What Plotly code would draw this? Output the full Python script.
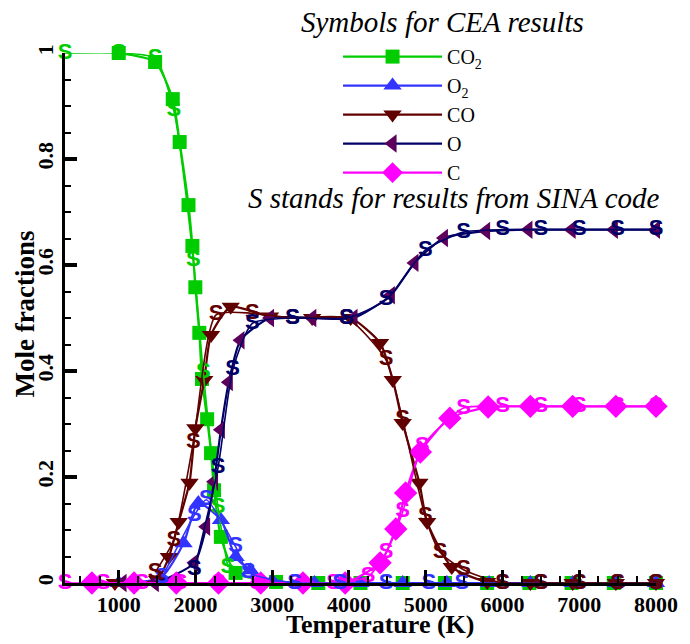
import plotly.graph_objects as go

# ---------------- CEA results (symbols) ----------------
T_CO2_CEA = [1000, 1474, 1704, 1794, 1909, 1960, 1998, 2050, 2085, 2152, 2203, 2242, 2331, 2523,
             3050, 3600, 4150, 4700, 5250, 5800, 6350, 6900, 7450, 8000]
Y_CO2_CEA = [1.0, 0.983, 0.913, 0.832, 0.713, 0.636, 0.558, 0.472, 0.385, 0.309, 0.245, 0.175, 0.087, 0.019,
             0.002, 0, 0, 0, 0, 0, 0, 0, 0, 0]

T_O2_CEA = [1000, 1550, 1845, 2037, 2331, 2523, 2715, 3000, 3550, 4150, 4700, 5275, 5826, 6363, 6914, 7477, 8000]
Y_O2_CEA = [0, 0.01, 0.075, 0.151, 0.119, 0.049, 0.024, 0.004, 0, 0, 0, 0, 0, 0, 0, 0, 0]

T_CO_CEA = [950, 1499, 1653, 1781, 1922, 1998, 2114, 2203, 2459, 2971, 3520, 4021, 4405, 4571, 4699,
            4917, 5019, 5339, 5800, 6363, 6914, 7477, 8000]
Y_CO_CEA = [0, 0.006, 0.049, 0.115, 0.189, 0.292, 0.383, 0.468, 0.521, 0.503, 0.5, 0.5, 0.453, 0.383, 0.302,
            0.189, 0.115, 0.030, 0.002, 0, 0, 0, 0]

T_O_CEA = [1050, 1470, 1986, 2139, 2242, 2331, 2434, 2587, 2971, 3522, 4059, 4546, 4853, 5237, 5787,
           6338, 6901, 7451, 8000]
Y_O_CEA = [0, 0, 0.038, 0.106, 0.191, 0.289, 0.379, 0.458, 0.5, 0.5, 0.5, 0.543, 0.604, 0.651, 0.664,
           0.6667, 0.6667, 0.6667, 0.6667]

T_C_CEA = [650, 1200, 1750, 2300, 2850, 3400, 3950, 4405, 4610, 4738, 4930, 5314, 5813, 6363, 6914, 7477, 8000]
Y_C_CEA = [0, 0, 0, 0, 0, 0, 0, 0.038, 0.102, 0.170, 0.247, 0.311, 0.332, 0.3333, 0.3333, 0.3333, 0.3333]

# ---------------- SINA results ("S" symbols) ----------------
T_CO2_SINA = [300, 1000, 1474, 1717, 1973, 2101, 2293, 2421]
Y_CO2_SINA = [1.0, 1.0, 0.99, 0.892, 0.609, 0.398, 0.143, 0.03]

T_C_SINA = [300, 800, 1300, 1800, 2300, 2800, 3300, 3800, 4250, 4482, 4699, 4955, 5493, 6000, 6500, 7000, 7500, 8000]
Y_C_SINA = [0, 0, 0, 0, 0, 0, 0, 0, 0.012, 0.057, 0.134, 0.257, 0.330, 0.3333, 0.3333, 0.3333, 0.3333, 0.3333]

T_O2_SINA = [1563, 1986, 2140, 2524, 2690, 3290, 3880, 4482, 5040, 5470, 6000, 6500, 7000, 7500, 8000]
Y_O2_SINA = [0.01, 0.128, 0.157, 0.068, 0.02, 0, 0, 0, 0, 0, 0, 0, 0, 0, 0]

T_CO_SINA = [1474, 1717, 1973, 2268, 2741, 3266, 3970, 4482, 4699, 4994, 5186, 5493, 6000, 6500, 7000, 7500, 8000]
Y_CO_SINA = [0.02, 0.081, 0.266, 0.506, 0.509, 0.5, 0.5, 0.421, 0.308, 0.125, 0.058, 0.025, 0, 0, 0, 0, 0]

T_O_SINA = [1986, 2293, 2485, 2741, 3266, 3970, 4482, 4994, 5493, 6000, 6500, 7000, 7500, 8000]
Y_O_SINA = [0.025, 0.217, 0.402, 0.49, 0.5, 0.5, 0.534, 0.628, 0.662, 0.6667, 0.6667, 0.6667, 0.6667, 0.6667]

SERIF = "Liberation Serif, Times New Roman, serif"
SANS = "Liberation Sans, Arial, sans-serif"

GREEN = "#00cc00"
BLUE = "#3333ff"
MAROON = "#600000"
NAVY = "#000066"
PURPLE = "#5c005c"
MAGENTA = "#ff00ff"

fig = go.Figure()

cea = [
    ("CO<sub>2</sub>", T_CO2_CEA, Y_CO2_CEA, GREEN, GREEN, "square", 14),
    ("O<sub>2</sub>", T_O2_CEA, Y_O2_CEA, BLUE, BLUE, "triangle-up", 16),
    ("CO", T_CO_CEA, Y_CO_CEA, MAROON, MAROON, "triangle-down", 16),
    ("O", T_O_CEA, Y_O_CEA, NAVY, PURPLE, "triangle-left", 16),
    ("C", T_C_CEA, Y_C_CEA, MAGENTA, MAGENTA, "diamond", 18),
]
for name, t, y, lc, mc, sym, sz in cea:
    fig.add_trace(go.Scatter(
        x=t, y=y, name=name, mode="lines+markers",
        line=dict(color=lc, width=2.2, shape="spline", smoothing=0.6),
        marker=dict(symbol=sym, size=sz, color=mc, line=dict(width=0)),
        cliponaxis=False,
    ))

sina = [
    (T_CO2_SINA, Y_CO2_SINA, GREEN),
    (T_C_SINA, Y_C_SINA, MAGENTA),
    (T_O2_SINA, Y_O2_SINA, BLUE),
    (T_CO_SINA, Y_CO_SINA, MAROON),
    (T_O_SINA, Y_O_SINA, NAVY),
]
for t, y, c in sina:
    fig.add_trace(go.Scatter(
        x=t, y=y, mode="lines+text", text=["S"] * len(t), textposition="middle center",
        textfont=dict(family=SANS, size=22, color=c, weight="bold"),
        line=dict(color=c, width=1.6, shape="spline", smoothing=0.6),
        showlegend=False, cliponaxis=False, hoverinfo="skip",
    ))

fig.update_layout(
    width=690, height=644, autosize=False,
    margin=dict(l=65, r=23, t=53, b=61),
    paper_bgcolor="white", plot_bgcolor="white",
    showlegend=True,
    legend=dict(
        x=0.462, y=1.03, xanchor="left", yanchor="top",
        font=dict(family=SERIF, size=20, color="black"),
        bgcolor="rgba(0,0,0,0)", itemwidth=99, tracegroupgap=0,
    ),
    annotations=[
        dict(text="Symbols for CEA results", x=0.638, y=1.058, xref="paper", yref="paper",
             showarrow=False, font=dict(family="Liberation Serif", size=29, color="black", style="italic"),
             xanchor="center", yanchor="middle"),
        dict(text="S stands for results from SINA code", x=0.658, y=0.726, xref="paper", yref="paper",
             showarrow=False, font=dict(family="Liberation Serif", size=29, color="black", style="italic"),
             xanchor="center", yanchor="middle"),
        dict(text="<b>Temperature (K)</b>", x=0.533, y=-0.079, xref="paper", yref="paper",
             showarrow=False, font=dict(family=SERIF, size=26, color="black"), xanchor="center", yanchor="middle"),
        dict(text="<b>Mole fractions</b>", x=-0.068, y=0.508, xref="paper", yref="paper", textangle=-90,
             showarrow=False, font=dict(family=SERIF, size=27, color="black"), xanchor="center", yanchor="middle"),
    ],
)

fig.update_xaxes(
    range=[300, 8000], showgrid=False, zeroline=False,
    showline=True, linecolor="black", linewidth=2.5,
    ticks="inside", ticklen=13, tickwidth=3, tickcolor="black",
    tick0=0, dtick=1000,
    minor=dict(ticks="inside", ticklen=7, tickwidth=1.8, tickcolor="black", dtick=250, tick0=0, showgrid=False),
    tickfont=dict(family=SERIF, size=22, color="black", weight="bold"),
    ticklabelstandoff=0,
)
fig.update_yaxes(
    range=[0, 1], showgrid=False, zeroline=False,
    showline=True, linecolor="black", linewidth=2.5,
    ticks="inside", ticklen=12, tickwidth=3.5, tickcolor="black",
    tick0=0, dtick=0.2, tickangle=-90,
    minor=dict(ticks="inside", ticklen=6, tickwidth=1.8, tickcolor="black", dtick=0.05, tick0=0, showgrid=False),
    tickfont=dict(family=SERIF, size=22, color="black", weight="bold"),
    ticklabelstandoff=0,
)

fig.write_html("out.html")
